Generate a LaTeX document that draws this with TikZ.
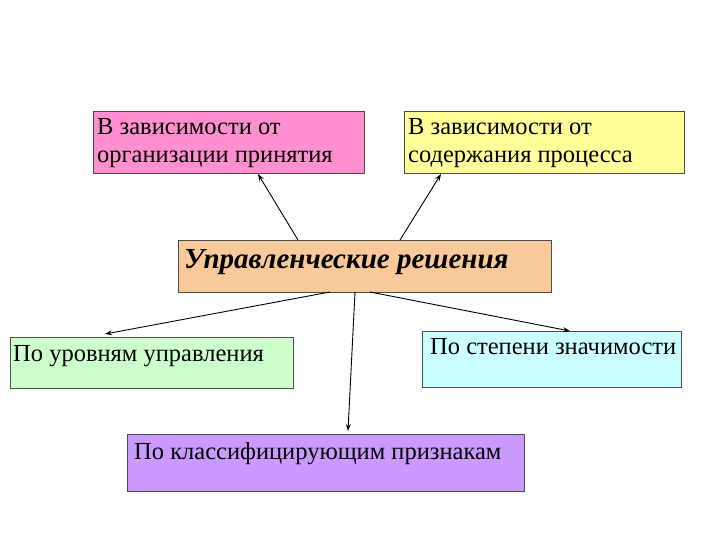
\documentclass[tikz,border=0pt]{standalone}
\usepackage{fontspec}
\setmainfont{Liberation Serif}
\usetikzlibrary{arrows.meta}
\begin{document}
\begin{tikzpicture}[x=1pt,y=-1pt,
  box/.style={draw=black!70,line width=0.6pt,anchor=north west,inner sep=0pt},
  lbl/.style={anchor=north west,font=\fontsize{24.5}{28}\selectfont,align=left,inner sep=0pt},
  arr/.style={-{Stealth[length=7pt,width=5pt]},line width=0.9pt}]
\useasboundingbox (0,0) rectangle (720,540);
\fill[white] (0,0) rectangle (720,540);
\node[box,fill={rgb,255:red,255;green,143;blue,207},minimum width=271pt,minimum height=62pt] (p) at (93,111) {};
\node[lbl] at (97,118) {В зависимости от\\организации принятия};
\node[box,fill={rgb,255:red,255;green,255;blue,153},minimum width=280pt,minimum height=62pt] (y) at (404,111) {};
\node[lbl] at (408,118) {В зависимости от\\содержания процесса};
\node[box,fill={rgb,255:red,250;green,201;blue,154},minimum width=373pt,minimum height=52pt] (c) at (178,240) {};
\node[lbl,font=\fontsize{29}{33}\selectfont\bfseries\itshape] at (184,249) {Управленческие решения};
\node[box,fill={rgb,255:red,204;green,255;blue,204},minimum width=283pt,minimum height=51pt] (g) at (10,337) {};
\node[lbl] at (13,345) {По уровням управления};
\node[box,fill={rgb,255:red,204;green,255;blue,255},minimum width=259pt,minimum height=56pt] (b) at (422,331) {};
\node[lbl] at (430,338) {По степени значимости};
\node[box,fill={rgb,255:red,204;green,153;blue,255},minimum width=397pt,minimum height=57pt] (v) at (127,434) {};
\node[lbl] at (134,442) {По классифицирующим признакам};
\coordinate (c1) at (298,240); \coordinate (p1) at (258,174);
\coordinate (c2) at (400,240); \coordinate (y1) at (441,174);
\coordinate (c3) at (330,292); \coordinate (g1) at (105,334);
\coordinate (c4) at (370,292); \coordinate (b1) at (570,331);
\coordinate (c5) at (355,292); \coordinate (v1) at (348,431);
\draw[arr] (c1) -- (p1);
\draw[arr] (c2) -- (y1);
\draw[arr] (c3) -- (g1);
\draw[arr] (c4) -- (b1);
\draw[arr] (c5) -- (v1);
\end{tikzpicture}
\end{document}
